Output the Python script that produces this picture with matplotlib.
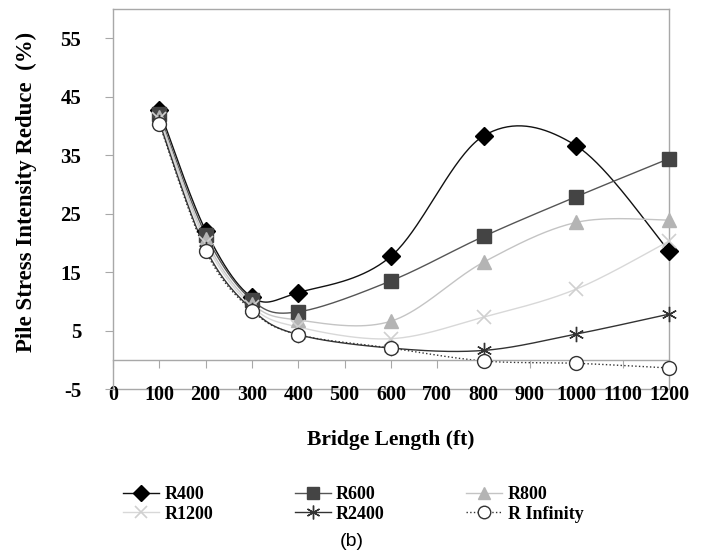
import numpy as np
import matplotlib.pyplot as plt
from matplotlib.lines import Line2D

# bridge lengths (ft) and stress reduction (%) for each radius
lengths = [100, 200, 300, 400, 600, 800, 1000, 1200]
r400 = [42.8, 22.1, 10.7, 11.5, 17.7, 38.3, 36.6, 18.6]
r600 = [42.1, 21.4, 10.2, 8.2, 13.5, 21.1, 27.9, 34.4]
r800 = [41.6, 20.6, 9.6, 6.8, 6.6, 16.7, 23.5, 23.9]
r1200 = [41.1, 20.0, 9.1, 5.6, 3.6, 7.3, 12.1, 20.3]
r2400 = [40.6, 19.0, 8.6, 4.3, 2.0, 1.6, 4.4, 7.8]
r_inf = [40.4, 18.6, 8.4, 4.3, 2.0, -0.2, -0.6, -1.4]

labels = ['R400', 'R600', 'R800', 'R1200', 'R2400', 'R Infinity']
series = [r400, r600, r800, r1200, r2400, r_inf]

styles = [
    dict(color='#111111', ls='-', marker='D', mfc='black', mec='black', ms=9),
    dict(color='#555555', ls='-', marker='s', mfc='#444444', mec='#444444', ms=10),
    dict(color='#c4c4c4', ls='-', marker='^', mfc='#b4b4b4', mec='#b4b4b4', ms=10),
    dict(color='#d8d8d8', ls='-', marker='x', mfc='none', mec='#d0d0d0', ms=10, mew=1.2),
    dict(color='#333333', ls='-', marker=(6, 2, 0), mfc='none', mec='#333333', ms=11, mew=1.0),
    dict(color='#333333', ls=':', marker='o', mfc='white', mec='#333333', ms=10),
]


def smooth(x, y, n=40):
    # cubic bezier through the points, excel style (tension 1/6)
    x = np.asarray(x, float)
    y = np.asarray(y, float)
    px = np.concatenate([[x[0]], x, [x[-1]]])
    py = np.concatenate([[y[0]], y, [y[-1]]])
    xs, ys = [], []
    t = np.linspace(0, 1, n)
    for i in range(1, len(px) - 2):
        p0 = np.array([px[i], py[i]])
        p3 = np.array([px[i + 1], py[i + 1]])
        p1 = p0 + (np.array([px[i + 1], py[i + 1]]) - np.array([px[i - 1], py[i - 1]])) / 6
        p2 = p3 - (np.array([px[i + 2], py[i + 2]]) - np.array([px[i], py[i]])) / 6
        b = ((1 - t) ** 3)[:, None] * p0 + (3 * (1 - t) ** 2 * t)[:, None] * p1 \
            + (3 * (1 - t) * t ** 2)[:, None] * p2 + (t ** 3)[:, None] * p3
        xs.append(b[:, 0])
        ys.append(b[:, 1])
    return np.concatenate(xs), np.concatenate(ys)


plt.rcParams['font.family'] = 'Liberation Serif'
plt.rcParams['font.weight'] = 'bold'
plt.rcParams['axes.unicode_minus'] = False

fig = plt.figure(figsize=(7.03, 5.54), dpi=100)
ax = fig.add_axes([0.1607, 0.2978, 0.7909, 0.6860])

grey = '#a8a8a8'
handles = []
for vals, st, lab in zip(series, styles, labels):
    sx, sy = smooth(lengths, vals)
    ax.plot(sx, sy, color=st['color'], ls=st['ls'], lw=1.0, zorder=2)
    ax.plot(lengths, vals, ls='none', marker=st['marker'], mfc=st['mfc'],
            mec=st['mec'], ms=st['ms'], mew=st.get('mew', 1.0), zorder=3, clip_on=False)
    handles.append(Line2D([], [], color=st['color'], ls=st['ls'], lw=1.0,
                          marker=st['marker'], mfc=st['mfc'], mec=st['mec'],
                          ms=st['ms'] * 0.9, mew=st.get('mew', 1.0)))

ax.set_xlim(0, 1200)
ax.set_ylim(-5, 60)
ax.set_xticks(range(0, 1300, 100))
ax.set_yticks(range(-5, 60, 10))

for s in ax.spines.values():
    s.set_color(grey)
    s.set_linewidth(1.0)
ax.spines['bottom'].set_position(('data', 0))
ax.axhline(-5, color=grey, lw=1.0, clip_on=False, zorder=1)

ax.tick_params(axis='x', direction='out', length=6, color=grey, pad=12.5, labelsize=14.5)
ax.tick_params(axis='y', direction='out', length=6, color=grey, pad=17, labelsize=15)

ax.set_ylabel('Pile Stress Intensity Reduce  (%)', fontsize=16.5, fontweight='bold',
              va='center')
ax.yaxis.set_label_coords(-0.156, 0.518)
ax.set_xlabel('Bridge Length (ft)', fontsize=15.5, fontweight='bold', va='center')
ax.xaxis.set_label_coords(0.5, -0.134)

order = [0, 3, 1, 4, 2, 5]
fig.legend([handles[i] for i in order], [labels[i] for i in order],
           ncol=3, loc='upper left', bbox_to_anchor=(0.175, 0.123),
           frameon=False, fontsize=13, handlelength=2.0, handletextpad=0.3,
           columnspacing=4.5, labelspacing=0.15, borderaxespad=0, borderpad=0)

fig.text(0.5, 0.022, '(b)', family='Liberation Sans', fontweight='normal',
         fontsize=14, ha='center', va='center')

fig.savefig('out.png', dpi=100)
